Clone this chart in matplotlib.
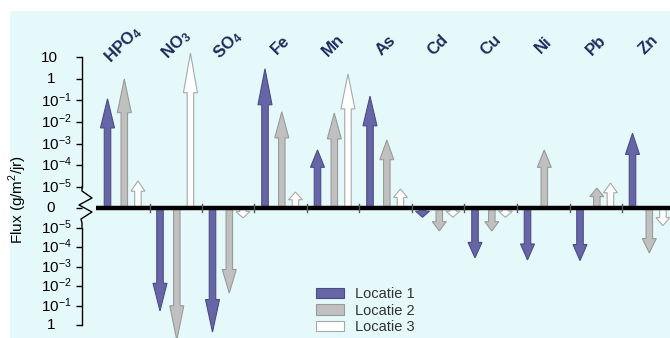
import numpy as np
import matplotlib
matplotlib.use('Agg')
import matplotlib.pyplot as plt
from matplotlib.patches import FancyArrow, Rectangle, Patch
import matplotlib.transforms as mtransforms

plt.rcParams['font.family'] = ['Liberation Sans', 'DejaVu Sans']
plt.rcParams['mathtext.fontset'] = 'custom'
plt.rcParams['mathtext.rm'] = 'Liberation Sans'
plt.rcParams['mathtext.bf'] = 'Liberation Sans:bold'

# ---- data (g/m2/jr), positive = up, negative = down, None = no arrow
categories = [r'$\mathbf{HPO_4}$', r'$\mathbf{NO_3}$', r'$\mathbf{SO_4}$', 'Fe', 'Mn', 'As',
              'Cd', 'Cu', 'Ni', 'Pb', 'Zn']
locatie1 = [0.12, -0.19, -2.3, 3.0, 5e-4, 0.16, -3e-6, -3.6e-4, -4.6e-4, -5e-4, 3e-3]
locatie2 = [1.0, -6.0, -0.023, 0.03, 0.026, 1.45e-3, -1.5e-5, -1.5e-5, 5e-4, 8.5e-6, -2e-4]
locatie3 = [1.8e-5, 16.0, -3.2e-6, 5.5e-6, 1.7, 7.6e-6, -3e-6, -3e-6, None, 1.45e-5, -8e-6]
series_names = ['Locatie 1', 'Locatie 2', 'Locatie 3']

tick_top = [10, 1, 1e-1, 1e-2, 1e-3, 1e-4, 1e-5]
tick_bot = [1e-5, 1e-4, 1e-3, 1e-2, 1e-1, 1]

# ---- styles
face = ['#6666a6', '#c0c0c0', '#ffffff']
edge = ['#4c4c85', '#9a9a9a', '#a8a8a8']
offsets = [0.2, 0.52, 0.78]
W, H = 670, 338
px_x = 52.5        # px per category
px_top = 21.5      # px per decade above zero
px_bot = 19.5      # px per decade below zero
y0_px = 208


def ypos(v):
    # decades above 1e-6, bottom half compressed a bit
    p = np.log10(abs(v)) + 6
    if v > 0:
        return p
    return -p * px_bot / px_top


fig = plt.figure(figsize=(W / 100, H / 100), dpi=100)
fig.patches.append(Rectangle((10 / W, 0), 1, (H - 11) / H, transform=fig.transFigure,
                             facecolor='#e6f9fa', edgecolor='none', zorder=-10))
ax = fig.add_axes([82 / W, 0, (W - 82) / W, 1])
ax.patch.set_alpha(0)
xl = (82 - 97) / px_x
ax.set_xlim(xl, (W - 97) / px_x)
ax.set_ylim(-(H - y0_px) / px_top, y0_px / px_top)
for s in ax.spines.values():
    s.set_visible(False)
ax.set_xticks([])

# arrows
for j, vals in enumerate([locatie1, locatie2, locatie3]):
    for k, v in enumerate(vals):
        if v is None:
            continue
        yy = ypos(v)
        L_px = abs(yy) * px_top
        hl = (0.23 * L_px + 4) / px_top
        ax.add_patch(FancyArrow(k + offsets[j], 0, 0, yy, width=6.5 / px_x,
                                head_width=14 / px_x, head_length=hl,
                                length_includes_head=True, facecolor=face[j],
                                edgecolor=edge[j], linewidth=0.8, zorder=3))

# zero line and category ticks
ax.plot([-0.02, 12], [0, 0], color='black', lw=3.2, zorder=4, solid_capstyle='butt')
for k in range(1, len(categories)):
    ax.plot([k, k], [-4 / px_top, 4 / px_top], color='#555555', lw=1, zorder=5)

# y axis with break
yt = ax.get_yaxis_transform()
zig_px = [(0, 187), (0, 191), (10, 198), (-3, 205), (10, 212), (-1, 219), (0, 223), (0, 227)]
ax.plot([0, 0], [ypos(10), ypos(1e-5)], color='black', lw=1, transform=yt, clip_on=False)
ax.plot([p[0] / (W - 82) for p in zig_px], [(y0_px - p[1]) / px_top for p in zig_px],
        color='black', lw=1, transform=yt, clip_on=False)
ax.plot([0, 0], [ypos(-1e-5), ypos(-1)], color='black', lw=1, transform=yt, clip_on=False)

tpos = [ypos(v) for v in tick_top] + [0] + [ypos(-v) for v in tick_bot]
ax.set_yticks(tpos)
ax.set_yticklabels([])
ax.tick_params(axis='y', direction='out', length=4, width=1, color='black')


def lab(v):
    if v == 10:
        return '10'
    if v == 1:
        return '1'
    return r'$\mathregular{10^{%d}}$' % round(np.log10(v))


bt = mtransforms.blended_transform_factory(fig.transFigure, ax.transData)
labels = [lab(v) for v in tick_top] + ['0'] + [lab(v) for v in tick_bot]
for p, t in zip(tpos, labels):
    if t.startswith('$') or t == '10':
        ax.text(41 / W, p, t, transform=bt, ha='left', va='center', fontsize=11)
    else:
        ax.text(51 / W, p, t, transform=bt, ha='center', va='center', fontsize=11)

fig.text(18 / W, (H - 200) / H, 'Flux (g/m$^\\mathregular{2}$/jr)', rotation=90,
         ha='center', va='center', fontsize=11)

# category labels
for k, c in enumerate(categories):
    ax.text(k + 0.5, (y0_px - 45) / px_top, c, rotation=45, ha='center', va='center',
            fontsize=12, fontweight='bold', color='#1f2b5c')

# legend
handles = [Patch(facecolor=face[j], edgecolor=edge[j], lw=0.8) for j in range(3)]
ax.legend(handles, series_names, loc='upper left',
          bbox_to_anchor=(316 / W, (H - 287) / H), bbox_transform=fig.transFigure,
          frameon=False, fontsize=10.5, handlelength=1.9, handleheight=0.7,
          labelspacing=0.18, handletextpad=0.75, borderpad=0, borderaxespad=0,
          labelcolor='#333333')

fig.savefig('out.png', dpi=100)
